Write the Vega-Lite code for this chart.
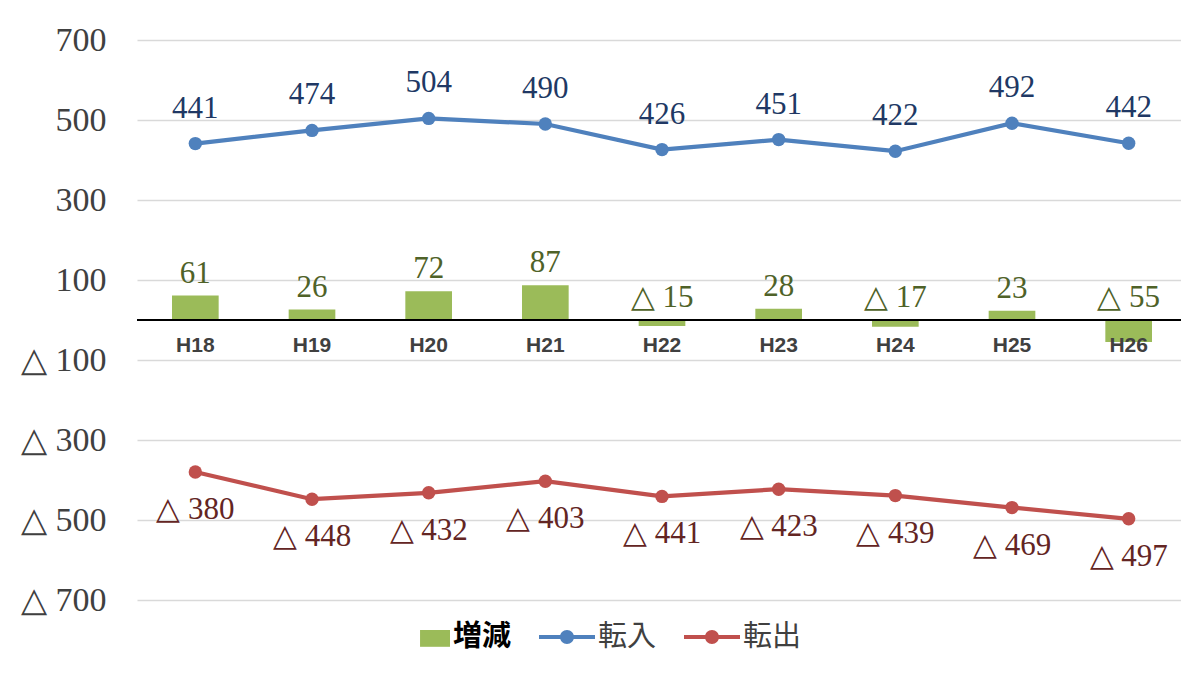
{
  "$schema": "https://vega.github.io/schema/vega-lite/v6.json",
  "width": 1050,
  "height": 560,
  "autosize": {"type": "none"},
  "padding": {"left": 137, "top": 40, "right": 0, "bottom": 78},
  "background": "white",
  "config": {
    "view": {"stroke": null},
    "axisY": {
      "title": null,
      "domain": false, "ticks": false,
      "grid": true, "gridColor": "#D9D9D9", "gridWidth": 1.4,
      "labelFont": "Liberation Serif", "labelFontSize": 34, "labelColor": "#404040",
      "labelPadding": 31
    }
  },
  "data": {
    "values": [
      {"年度": "H18", "転入": 441, "転出": -380, "増減": 61},
      {"年度": "H19", "転入": 474, "転出": -448, "増減": 26},
      {"年度": "H20", "転入": 504, "転出": -432, "増減": 72},
      {"年度": "H21", "転入": 490, "転出": -403, "増減": 87},
      {"年度": "H22", "転入": 426, "転出": -441, "増減": -15},
      {"年度": "H23", "転入": 451, "転出": -423, "増減": 28},
      {"年度": "H24", "転入": 422, "転出": -439, "増減": -17},
      {"年度": "H25", "転入": 492, "転出": -469, "増減": 23},
      {"年度": "H26", "転入": 442, "転出": -497, "増減": -55}
    ]
  },
  "layer": [
    {
      "mark": {"type": "bar", "color": "#9BBB59"},
      "encoding": {
        "x": {"field": "年度", "type": "nominal", "sort": null, "scale": {"paddingInner": 0.6, "paddingOuter": 0.3}, "axis": null},
        "y": {
          "field": "増減", "type": "quantitative",
          "scale": {"domain": [-700, 700], "nice": false, "zero": false},
          "axis": {
            "title": null,
            "values": [-700, -500, -300, -100, 100, 300, 500, 700],
            "labelExpr": "datum.value < 0 ? '△ ' + abs(datum.value) : '' + datum.value"
          }
        }
      }
    },
    {
      "mark": {"type": "rule", "color": "#000000", "strokeWidth": 1.6},
      "encoding": {"y": {"datum": 0, "type": "quantitative", "axis": {"title": null, "values": [-700, -500, -300, -100, 100, 300, 500, 700], "labelExpr": "datum.value < 0 ? '△ ' + abs(datum.value) : '' + datum.value"}}}
    },
    {
      "mark": {"type": "line", "color": "#4F81BD", "strokeWidth": 4.2},
      "encoding": {
        "x": {"field": "年度", "type": "nominal", "sort": null, "axis": null},
        "y": {"field": "転入", "type": "quantitative", "axis": {"title": null, "values": [-700, -500, -300, -100, 100, 300, 500, 700], "labelExpr": "datum.value < 0 ? '△ ' + abs(datum.value) : '' + datum.value"}}
      }
    },
    {
      "mark": {"type": "point", "filled": true, "opacity": 1, "color": "#4F81BD", "size": 180},
      "encoding": {
        "x": {"field": "年度", "type": "nominal", "sort": null, "axis": null},
        "y": {"field": "転入", "type": "quantitative", "axis": {"title": null, "values": [-700, -500, -300, -100, 100, 300, 500, 700], "labelExpr": "datum.value < 0 ? '△ ' + abs(datum.value) : '' + datum.value"}}
      }
    },
    {
      "mark": {"type": "line", "color": "#C0504D", "strokeWidth": 4.2},
      "encoding": {
        "x": {"field": "年度", "type": "nominal", "sort": null, "axis": null},
        "y": {"field": "転出", "type": "quantitative", "axis": {"title": null, "values": [-700, -500, -300, -100, 100, 300, 500, 700], "labelExpr": "datum.value < 0 ? '△ ' + abs(datum.value) : '' + datum.value"}}
      }
    },
    {
      "mark": {"type": "point", "filled": true, "opacity": 1, "color": "#C0504D", "size": 180},
      "encoding": {
        "x": {"field": "年度", "type": "nominal", "sort": null, "axis": null},
        "y": {"field": "転出", "type": "quantitative", "axis": {"title": null, "values": [-700, -500, -300, -100, 100, 300, 500, 700], "labelExpr": "datum.value < 0 ? '△ ' + abs(datum.value) : '' + datum.value"}}
      }
    },
    {
      "mark": {"type": "text", "font": "Liberation Serif", "fontSize": 31, "color": "#203864", "baseline": "middle", "dy": -35},
      "encoding": {
        "x": {"field": "年度", "type": "nominal", "sort": null, "axis": null},
        "y": {"field": "転入", "type": "quantitative", "axis": {"title": null, "values": [-700, -500, -300, -100, 100, 300, 500, 700], "labelExpr": "datum.value < 0 ? '△ ' + abs(datum.value) : '' + datum.value"}},
        "text": {"field": "転入", "type": "quantitative"}
      }
    },
    {
      "transform": [{"calculate": "'△ ' + abs(datum['転出'])", "as": "転出ラベル"}],
      "mark": {"type": "text", "font": "Liberation Serif", "fontSize": 31, "color": "#632523", "baseline": "middle", "dy": 38},
      "encoding": {
        "x": {"field": "年度", "type": "nominal", "sort": null, "axis": null},
        "y": {"field": "転出", "type": "quantitative", "axis": {"title": null, "values": [-700, -500, -300, -100, 100, 300, 500, 700], "labelExpr": "datum.value < 0 ? '△ ' + abs(datum.value) : '' + datum.value"}},
        "text": {"field": "転出ラベル", "type": "nominal"}
      }
    },
    {
      "transform": [
        {"calculate": "datum['増減'] < 0 ? '△ ' + abs(datum['増減']) : '' + datum['増減']", "as": "増減ラベル"},
        {"calculate": "max(datum['増減'], 0)", "as": "増減位置"}
      ],
      "mark": {"type": "text", "font": "Liberation Serif", "fontSize": 31, "color": "#4F6228", "baseline": "middle", "dy": -22},
      "encoding": {
        "x": {"field": "年度", "type": "nominal", "sort": null, "axis": null},
        "y": {"field": "増減位置", "type": "quantitative", "axis": {"title": null, "values": [-700, -500, -300, -100, 100, 300, 500, 700], "labelExpr": "datum.value < 0 ? '△ ' + abs(datum.value) : '' + datum.value"}},
        "text": {"field": "増減ラベル", "type": "nominal"}
      }
    },
    {
      "mark": {"type": "text", "font": "Liberation Sans", "fontWeight": "bold", "fontSize": 21, "color": "#404040", "baseline": "middle", "dy": 26},
      "encoding": {
        "x": {"field": "年度", "type": "nominal", "sort": null, "axis": null},
        "y": {"datum": 0, "type": "quantitative", "axis": {"title": null, "values": [-700, -500, -300, -100, 100, 300, 500, 700], "labelExpr": "datum.value < 0 ? '△ ' + abs(datum.value) : '' + datum.value"}},
        "text": {"field": "年度", "type": "nominal"}
      }
    },
    {
      "data": {"values": [{"系列": "増減"}, {"系列": "転入"}, {"系列": "転出"}]},
      "mark": {"type": "point", "filled": true, "opacity": 0},
      "encoding": {
        "color": {
          "field": "系列", "type": "nominal",
          "scale": {"domain": ["増減", "転入", "転出"], "range": ["#9BBB59", "#4F81BD", "#C0504D"]},
          "legend": {
            "title": null, "orient": "none", "legendX": 257, "legendY": 569,
            "direction": "horizontal", "padding": 0,
            "symbolSize": 3136, "symbolOpacity": 1, "symbolStrokeWidth": 0,
            "labelFont": "Noto Sans CJK JP", "labelFontSize": 29, "labelColor": "#404040",
            "labelOffset": 3, "columnPadding": 27,
            "encode": {
              "symbols": {"update": {"opacity": {"value": 1}, "fillOpacity": {"value": 1}}},
              "labels": {"update": {"fill": {"signal": "datum.label === '増減' ? '#000000' : '#404040'"}, "fontWeight": {"signal": "datum.label === '増減' ? 'bold' : 'normal'"}}}
            }
          }
        },
        "shape": {
          "field": "系列", "type": "nominal",
          "scale": {
            "domain": ["増減", "転入", "転出"],
            "range": [
              "M-0.07,-0.25H1V0.35H-0.07Z",
              "M-1,-0.07H1V0.07H-1Z M0.25,0A0.25,0.25 0 1,1 -0.25,0A0.25,0.25 0 1,1 0.25,0Z",
              "M-1,-0.07H1V0.07H-1Z M0.25,0A0.25,0.25 0 1,1 -0.25,0A0.25,0.25 0 1,1 0.25,0Z"
            ]
          }
        }
      }
    }
  ]
}
